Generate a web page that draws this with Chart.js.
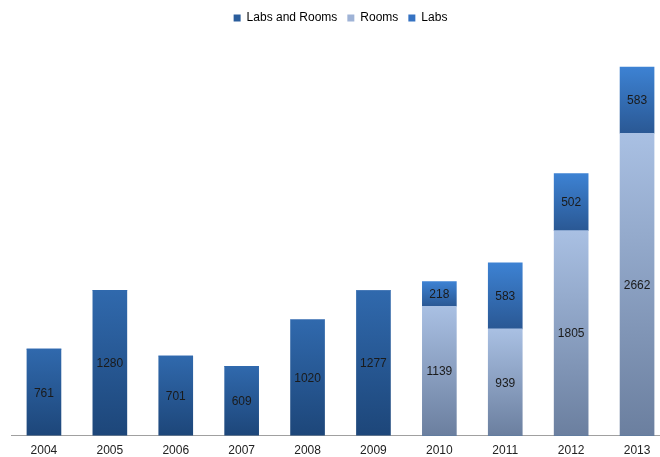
<!DOCTYPE html>
<html>
<head>
<meta charset="utf-8">
<script src="https://cdn.jsdelivr.net/npm/chart.js@4"></script>
<style>
  html, body { margin: 0; padding: 0; background: #fff; overflow: hidden; }
  #wrap { width: 670px; height: 466px; }
</style>
</head>
<body>
<div id="wrap"><canvas id="chart"></canvas></div>
<script>
// 年份與數值
const years = ['2004', '2005', '2006', '2007', '2008', '2009', '2010', '2011', '2012', '2013'];
const labsAndRooms = [761, 1280, 701, 609, 1020, 1277, 0, 0, 0, 0];
const rooms = [0, 0, 0, 0, 0, 0, 1139, 939, 1805, 2662];
const labs = [0, 0, 0, 0, 0, 0, 218, 583, 502, 583];

const seriesData = [labsAndRooms, rooms, labs];
// 每個系列的漸層顏色（上、下）
const gradColors = [
    ['#3069ad', '#1d4679'],
    ['#a9c0e3', '#6b7f9f'],
    ['#3d82d3', '#2a5894']
];
const legendColors = ['#2a5d9c', '#9fb3d6', '#3572c2'];

function barGradient(ctx) {
    const chart = ctx.chart;
    const ds = ctx.datasetIndex;
    const i = ctx.dataIndex;
    const y = chart.scales && chart.scales.y;
    if (!y || !chart.chartArea || i === undefined) return legendColors[ds];
    let base = 0;
    for (let k = 0; k < ds; k++) base += seriesData[k][i];
    const top = base + seriesData[ds][i];
    const y0 = y.getPixelForValue(top);
    const y1 = y.getPixelForValue(base);
    if (!isFinite(y0) || !isFinite(y1) || y0 === y1) return legendColors[ds];
    const g = chart.ctx.createLinearGradient(0, y0, 0, y1);
    g.addColorStop(0, gradColors[ds][0]);
    g.addColorStop(1, gradColors[ds][1]);
    return g;
}

// 在柱子中間寫上數值
const valueLabels = {
    id: 'valueLabels',
    afterDatasetsDraw(chart) {
        const c = chart.ctx;
        c.save();
        c.font = '12px "Liberation Sans", Arial, sans-serif';
        c.fillStyle = '#1a1a1a';
        c.textAlign = 'center';
        c.textBaseline = 'middle';
        chart.data.datasets.forEach((ds, di) => {
            chart.getDatasetMeta(di).data.forEach((bar, i) => {
                const v = ds.data[i];
                if (!v) return;
                c.fillText(String(v), bar.x, (bar.y + bar.base) / 2 + 1);
            });
        });
        c.restore();
    }
};

const names = ['Labs and Rooms', 'Rooms', 'Labs'];

new Chart(document.getElementById('chart'), {
    type: 'bar',
    data: {
        labels: years,
        datasets: seriesData.map((d, k) => ({
            label: names[k],
            data: d,
            backgroundColor: barGradient,
            borderWidth: 0,
            barThickness: 34
        }))
    },
    options: {
        responsive: true,
        maintainAspectRatio: false,
        animation: false,
        layout: { padding: { left: 11, right: 0, top: 2, bottom: 0 } },
        plugins: {
            legend: {
                position: 'top',
                labels: {
                    boxWidth: 7,
                    boxHeight: 7,
                    padding: 10,
                    color: '#222',
                    font: { family: '"Liberation Sans", Arial, sans-serif', size: 12 },
                    generateLabels(chart) {
                        return names.map((n, k) => ({
                            text: n,
                            fillStyle: legendColors[k],
                            strokeStyle: legendColors[k],
                            lineWidth: 0,
                            datasetIndex: k
                        }));
                    }
                }
            },
            tooltip: { enabled: false }
        },
        scales: {
            x: {
                stacked: true,
                grid: { display: false, drawTicks: false },
                border: { color: '#a0a0a0', width: 1 },
                ticks: {
                    color: '#222',
                    padding: 8,
                    font: { family: '"Liberation Sans", Arial, sans-serif', size: 12 }
                }
            },
            y: {
                stacked: true,
                display: false,
                min: 0,
                max: 3536
            }
        }
    },
    plugins: [valueLabels]
});
</script>
</body>
</html>
